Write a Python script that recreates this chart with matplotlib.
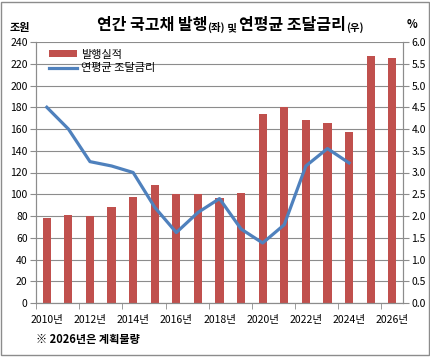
import matplotlib.pyplot as plt
from matplotlib.patches import Rectangle

plt.rcParams['font.family'] = ['Noto Sans CJK KR', 'DejaVu Sans']

# Data
years = list(range(2010, 2027))
issuance = [78, 81, 80, 88, 97.5, 108.5, 100.5, 100.5, 97, 101,
            174, 180, 168.5, 165.5, 157.5, 227, 225.5]
rate = [4.5, 4.0, 3.25, 3.15, 3.0, 2.2, 1.62, 2.08, 2.4, 1.7,
        1.38, 1.8, 3.15, 3.55, 3.22]
xlabels = [f"{y}년" for y in years[::2]]

bar_c = "#C0504D"
line_c = "#4F81BD"
grid_c = "#8C8C8C"

fig = plt.figure(figsize=(4.31, 3.58), dpi=100)
ax = fig.add_axes([36/431, 1-303/358, 367/431, 261/358])

xs = list(range(len(years)))
bars = ax.bar(xs, issuance, width=0.38, color=bar_c, zorder=2)
ax.set_ylim(0, 240)
ax.set_yticks(range(0, 241, 20))
ax.set_xlim(-0.5, len(years) - 0.5)
ax.set_xticks(xs[::2])
ax.set_xticklabels(xlabels)
ax.set_xticks([x - 0.5 for x in xs[::2]], minor=True)
ax.tick_params(axis='x', which='major', length=0, pad=9, labelsize=7.5)
ax.tick_params(axis='x', which='minor', length=4, color=grid_c, direction='out')
ax.tick_params(axis='y', length=4, color=grid_c, labelsize=7.5, pad=2)
ax.grid(axis='y', color=grid_c, lw=0.8, zorder=0)
ax.set_axisbelow(True)
ax.spines['top'].set_visible(False)
for s in ['left', 'right', 'bottom']:
    ax.spines[s].set_color(grid_c)

# Rate line on right axis
ax2 = ax.twinx()
ln, = ax2.plot(xs[:len(rate)], rate, color=line_c, lw=2.3, zorder=3)
ax2.set_ylim(0, 6)
ax2.set_yticks([i * 0.5 for i in range(13)])
ax2.set_yticklabels([f"{i*0.5:.1f}" for i in range(13)])
ax2.tick_params(axis='y', length=4, color=grid_c, labelsize=7.5, pad=2)
ax2.spines['top'].set_visible(False)
for s in ['left', 'right', 'bottom']:
    ax2.spines[s].set_color(grid_c)

ax.legend([bars, ln], ["발행실적", "연평균 조달금리"], loc='upper left',
          bbox_to_anchor=(0.01, 1.005), frameon=False, fontsize=8,
          handlelength=2.6, handleheight=0.5, labelspacing=0.35,
          handletextpad=0.3, borderaxespad=0.4)

# Title: big and small pieces chained together
chain = fig.text(97/431, 1-25/358, "연간 국고채 발행", fontsize=11.5,
                 fontweight='bold', va='center')
for txt, fs in [("(좌)", 7.5), (" 및 ", 7.5), ("연평균 조달금리", 11.5), ("(우)", 7.5)]:
    chain = ax.annotate(txt, xy=(1, 0), xycoords=chain, xytext=(0, 0),
                        textcoords='offset points', fontsize=fs,
                        fontweight='bold', va='bottom', ha='left',
                        annotation_clip=False)

fig.text(10/431, 1-27/358, "조원", fontsize=8, fontweight='bold', va='center')
fig.text(407/431, 1-25/358, "%", fontsize=8, fontweight='bold', va='center')
fig.text(36/431, 1-340/358, "※ 2026년은 계획물량", fontsize=8, fontweight='bold', va='center')

fig.patches.append(Rectangle((1/431, 3/358), 428/431, 353/358, transform=fig.transFigure,
                             fill=False, edgecolor=grid_c, lw=1))

fig.savefig("out.png", dpi=100)
